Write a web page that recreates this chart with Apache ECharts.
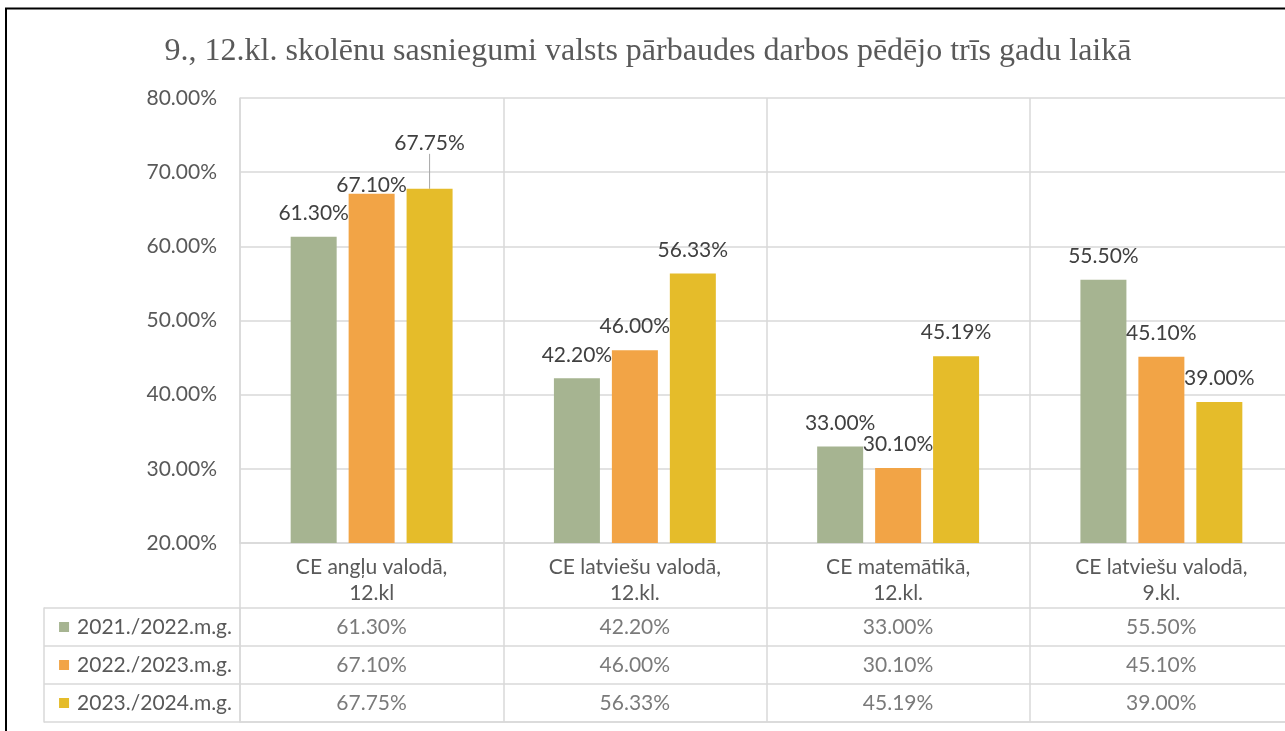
<!DOCTYPE html>
<html lang="lv">
<head>
    <meta charset="UTF-8">
    <title>Skolēnu sasniegumi</title>
    <script src="https://cdn.jsdelivr.net/npm/echarts@6/dist/echarts.min.js"></script>
    <style>
        html, body { margin: 0; padding: 0; background: #fff; }
        #chart { width: 1285px; height: 731px; }
    </style>
</head>
<body>
<div id="chart"></div>
<script>
    // dati
    var categories = ['CE angļu valodā,\n12.kl', 'CE latviešu valodā,\n12.kl.', 'CE matemātikā,\n12.kl.', 'CE latviešu valodā,\n9.kl.'];
    var seriesNames = ['2021./2022.m.g.', '2022./2023.m.g.', '2023./2024.m.g.'];
    var values2122 = [61.30, 42.20, 33.00, 55.50];
    var values2223 = [67.10, 46.00, 30.10, 45.10];
    var values2324 = [67.75, 56.33, 45.19, 39.00];
    var yTicks = [20, 30, 40, 50, 60, 70, 80];

    var seriesValues = [values2122, values2223, values2324];
    var colors = ['#a6b491', '#f2a446', '#e5bc2a'];
    var gridColor = '#d9d9d9';
    var textColor = '#595959';
    var font = 'Lato, "Open Sans", sans-serif';

    function pct(v) { return v.toFixed(2) + '%'; }

    var barSeries = seriesValues.map(function (vals, s) {
        return {
            name: seriesNames[s],
            type: 'bar',
            xAxisIndex: 0,
            yAxisIndex: 0,
            barWidth: 46,
            barGap: '26%',
            itemStyle: { color: colors[s] },
            label: {
                show: true,
                position: 'top',
                distance: 13,
                color: '#404040',
                fontFamily: font,
                fontSize: 21,
                formatter: function (p) { return pct(p.value); }
            },
            labelLine: { show: false },
            data: vals.map(function (v, i) {
                var item = { value: v };
                // Excel etiķešu novietojums pirmajā kategorijā
                if (s === 1 && i === 0) item.label = { offset: [0, 15] };
                if (s === 2 && i === 0) item.labelLine = { show: true, lineStyle: { color: '#a6a6a6', width: 1 } };
                return item;
            }),
            labelLayout: s === 2 ? function (p) {
                if (p.dataIndex === 0) return { dy: -22 };
            } : undefined
        };
    });

    // datu tabula
    var tableData = [];
    seriesValues.forEach(function (vals, s) {
        vals.forEach(function (v, i) {
            tableData.push([categories[i], seriesNames[s], v]);
        });
    });

    var option = {
        animation: false,
        textStyle: { fontFamily: font },
        title: {
            text: '9., 12.kl. skolēnu sasniegumi valsts pārbaudes darbos pēdējo trīs gadu laikā',
            left: 643,
            top: 31,
            textAlign: 'center',
            textStyle: {
                fontFamily: '"Liberation Serif", "DejaVu Serif", serif',
                fontWeight: 'normal',
                fontSize: 32,
                color: textColor
            }
        },
        graphic: [{
            type: 'rect',
            silent: true,
            shape: { x: 6, y: 8.5, width: 1400, height: 900 },
            style: { fill: 'none', stroke: '#000', lineWidth: 2 }
        }],
        grid: [
            { left: 240, width: 1053, top: 98, bottom: 188, outerBoundsMode: 'none' },
            { left: 240, width: 1053, top: 608, bottom: 9, outerBoundsMode: 'none' }
        ],
        xAxis: [{
            type: 'category',
            gridIndex: 0,
            data: categories,
            axisLine: { show: true, lineStyle: { color: gridColor, width: 1.5 } },
            axisTick: { show: true, length: 65, lineStyle: { color: gridColor, width: 1.5 } },
            splitLine: { show: true, lineStyle: { color: gridColor, width: 1.5 } },
            axisLabel: {
                interval: 0,
                margin: 11,
                color: textColor,
                fontSize: 21,
                lineHeight: 26
            }
        }, {
            type: 'category',
            gridIndex: 1,
            position: 'top',
            data: categories,
            axisLine: { show: true, lineStyle: { color: gridColor, width: 1.5 } },
            axisTick: { show: false },
            axisLabel: { show: false },
            splitLine: { show: true, lineStyle: { color: gridColor, width: 1.5 } }
        }],
        yAxis: [{
            type: 'value',
            gridIndex: 0,
            min: yTicks[0],
            max: yTicks[yTicks.length - 1],
            interval: 10,
            axisLine: { show: true, lineStyle: { color: gridColor, width: 1.5 } },
            axisTick: { show: false },
            splitLine: { show: true, lineStyle: { color: gridColor, width: 1.5 } },
            axisLabel: {
                margin: 23,
                color: textColor,
                fontSize: 21,
                formatter: function (v) { return pct(v); }
            }
        }, {
            type: 'category',
            gridIndex: 1,
            inverse: true,
            data: seriesNames,
            axisLine: { show: true, lineStyle: { color: gridColor, width: 1.5 } },
            axisTick: { show: true, inside: false, length: 196, lineStyle: { color: gridColor, width: 1.5 } },
            splitLine: { show: true, lineStyle: { color: gridColor, width: 1.5 } },
            axisLabel: {
                margin: 8,
                color: textColor,
                fontSize: 21,
                formatter: function (v, i) { return '{s' + i + '|}{t|' + v + '}'; },
                rich: {
                    s0: { backgroundColor: colors[0], width: 10, height: 10 },
                    s1: { backgroundColor: colors[1], width: 10, height: 10 },
                    s2: { backgroundColor: colors[2], width: 10, height: 10 },
                    t: { color: textColor, fontSize: 21, padding: [0, 0, 0, 8] }
                }
            }
        }, {
            type: 'value',
            gridIndex: 1,
            position: 'left',
            offset: 196,
            axisLine: { show: true, onZero: false, lineStyle: { color: gridColor, width: 1.5 } },
            axisTick: { show: false },
            axisLabel: { show: false },
            splitLine: { show: false }
        }],
        series: barSeries.concat([{
            name: 'tabula',
            type: 'scatter',
            xAxisIndex: 1,
            yAxisIndex: 1,
            symbolSize: 1,
            itemStyle: { color: 'transparent' },
            encode: { x: 0, y: 1 },
            label: {
                show: true,
                position: 'inside',
                color: textColor,
                fontSize: 21,
                formatter: function (p) { return pct(p.value[2]); }
            },
            data: tableData
        }])
    };

    var chart = echarts.init(document.getElementById('chart'));
    chart.setOption(option);
</script>
</body>
</html>
